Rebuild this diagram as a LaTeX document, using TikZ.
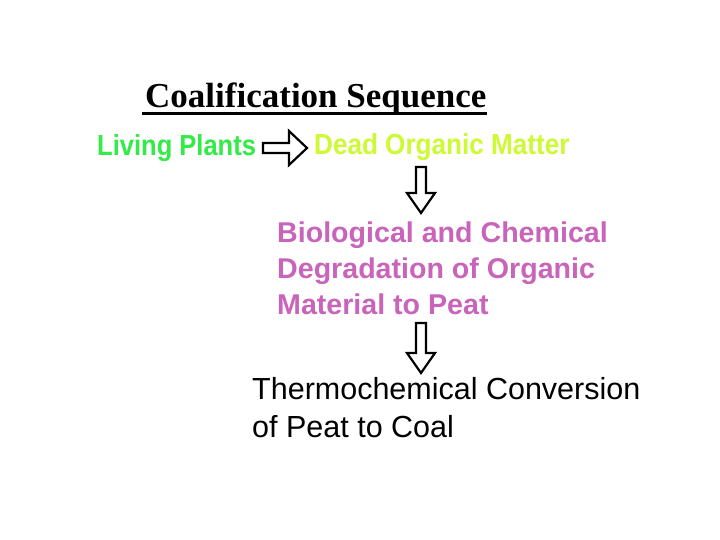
\documentclass[tikz,border=0pt]{standalone}
\usepackage{fontspec}
\setsansfont{Liberation Sans}
\newfontfamily\headfont{Liberation Serif}
\definecolor{plantgreen}{RGB}{50, 235, 70}
\definecolor{deadyellow}{RGB}{205, 250, 50}
\definecolor{peatpink}{RGB}{200, 100, 185}
\tikzset{
  stage/.style={inner sep=0pt, anchor=base west, font=\sffamily\bfseries\fontsize{29}{36}\selectfont},
  pics/blockarrow/.style n args={3}{code={
    \draw[line width=2.2, line join=miter, fill=white]
      (0,-5) -- (#1-#2,-5) -- (#1-#2,-#3) -- (#1,0) -- (#1-#2,#3) -- (#1-#2,5) -- (0,5) -- cycle;}}
}
\begin{document}
\begin{tikzpicture}[x=1pt, y=-1pt]
  \useasboundingbox[fill=white] (0,0) rectangle (720,540);
  % heading
  \node[inner sep=0pt, anchor=base west, font=\headfont\bfseries\fontsize{35}{40}\selectfont] (title) at (145,108) {Coalification Sequence};
  \draw[line width=3] ([xshift=-3pt, yshift=-6pt]title.base west) -- ([yshift=-6pt]title.base east);
  % stages
  \node[stage, text=plantgreen] (living) at (97,156) {\scalebox{0.88}[1]{Living Plants}};
  \node[stage, text=deadyellow] (dead) at (314,155) {\scalebox{0.9}[1]{Dead Organic Matter}};
  \node[stage, anchor=north west, align=left, text=peatpink, font=\sffamily\bfseries\fontsize{28.6}{36}\selectfont] (peat) at (277,222)
    {Biological and Chemical\\ Degradation of Organic\\ Material to Peat};
  \node[inner sep=0pt, anchor=north west, align=left, font=\sffamily\fontsize{30.5}{38}\selectfont] (coal) at (252,377)
    {Thermochemical Conversion\\ of Peat to Coal};
  % arrows
  \coordinate (a1) at (263,148);
  \coordinate (a2) at (421,167);
  \coordinate (a3) at (421,323);
  \pic at (a1) {blockarrow={44}{18}{17}};
  \pic[rotate=-90] at (a2) {blockarrow={46}{20}{14}};
  \pic[rotate=-90] at (a3) {blockarrow={50}{20}{14}};
\end{tikzpicture}
\end{document}
